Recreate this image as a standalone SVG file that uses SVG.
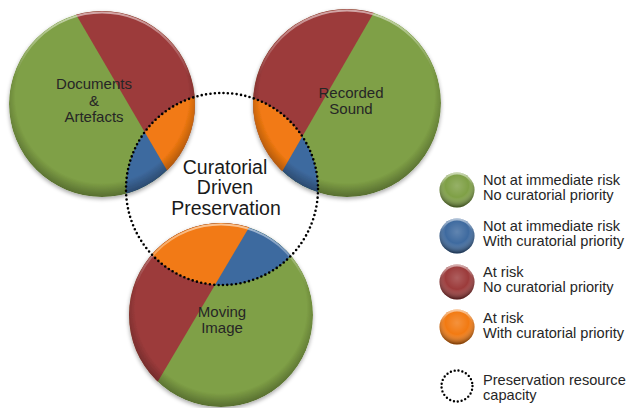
<svg xmlns="http://www.w3.org/2000/svg" width="632" height="408" viewBox="0 0 632 408">
  <defs>
    <style>
      .green { fill: #7fa046; }
      .red { fill: #9c3b3b; }
      .orange { fill: #f27a12; }
      .blue { fill: #3e6a9f; }
      .dots { fill: none; stroke: #000; stroke-width: 2.6; stroke-linecap: round; stroke-dasharray: 0 4.4; }
      .label { font-family: "Liberation Sans", Arial, sans-serif; font-size: 15px; fill: #262626; text-anchor: middle; }
      .title { font-family: "Liberation Sans", Arial, sans-serif; font-size: 19.5px; fill: #1a1a1a; text-anchor: middle; }
      .legend { font-family: "Liberation Sans", Arial, sans-serif; font-size: 14.6px; fill: #262626; }
      .bevel { fill: url(#edgeShade); }
      .rim { fill: none; stroke: url(#rimLight); stroke-width: 2; }
      .ballShade { fill: url(#ballShade); }
    </style>
    <radialGradient id="edgeShade" cx="50%" cy="46%" r="54%">
      <stop offset="0.86" stop-color="#000" stop-opacity="0"/>
      <stop offset="1" stop-color="#000" stop-opacity="0.32"/>
    </radialGradient>
    <linearGradient id="rimLight" x1="0" y1="0" x2="0" y2="1">
      <stop offset="0" stop-color="#fff" stop-opacity="0.55"/>
      <stop offset="0.35" stop-color="#fff" stop-opacity="0"/>
    </linearGradient>
    <radialGradient id="ballShade" cx="50%" cy="38%" r="60%">
      <stop offset="0" stop-color="#fff" stop-opacity="0.18"/>
      <stop offset="0.55" stop-color="#fff" stop-opacity="0"/>
      <stop offset="1" stop-color="#000" stop-opacity="0.45"/>
    </radialGradient>
    <filter id="shadow" x="-10%" y="-10%" width="120%" height="125%">
      <feGaussianBlur in="SourceAlpha" stdDeviation="2"/>
      <feOffset dy="2" result="off"/>
      <feComponentTransfer><feFuncA type="linear" slope="0.35"/></feComponentTransfer>
      <feMerge><feMergeNode/><feMergeNode in="SourceGraphic"/></feMerge>
    </filter>
    <clipPath id="clipDocs"><circle cx="102" cy="104" r="93"/></clipPath>
    <clipPath id="clipSound"><circle cx="347" cy="103" r="94"/></clipPath>
    <clipPath id="clipMoving"><circle cx="221" cy="315" r="92"/></clipPath>
    <clipPath id="clipCapacity"><circle cx="222" cy="189" r="96"/></clipPath>
  </defs>

  <rect width="632" height="408" fill="#fff"/>

  <!-- Documents & Artefacts -->
  <g id="node-documents">
    <g filter="url(#shadow)">
      <g clip-path="url(#clipDocs)">
        <circle class="green" cx="102" cy="104" r="93"/>
        <polygon class="red" points="29,-66 213,249 300,249 300,-66"/>
        <g clip-path="url(#clipCapacity)">
          <circle class="blue" cx="102" cy="104" r="93"/>
          <polygon class="orange" points="29,-66 213,249 300,249 300,-66"/>
        </g>
        <circle class="bevel" cx="102" cy="104" r="93"/>
        <circle class="rim" cx="102" cy="104" r="91.5"/>
      </g>
    </g>
    <text class="label" x="94" y="89">Documents</text>
    <text class="label" x="94" y="106">&amp;</text>
    <text class="label" x="94" y="122">Artefacts</text>
  </g>

  <!-- Recorded Sound -->
  <g id="node-recorded-sound">
    <g filter="url(#shadow)">
      <g clip-path="url(#clipSound)">
        <circle class="green" cx="347" cy="103" r="94"/>
        <polygon class="red" points="418,-64 238,248 200,248 200,-64"/>
        <g clip-path="url(#clipCapacity)">
          <circle class="blue" cx="347" cy="103" r="94"/>
          <polygon class="orange" points="418,-64 238,248 200,248 200,-64"/>
        </g>
        <circle class="bevel" cx="347" cy="103" r="94"/>
        <circle class="rim" cx="347" cy="103" r="92.5"/>
      </g>
    </g>
    <text class="label" x="351" y="98">Recorded</text>
    <text class="label" x="351" y="114">Sound</text>
  </g>

  <!-- Moving Image -->
  <g id="node-moving-image">
    <g filter="url(#shadow)">
      <g clip-path="url(#clipMoving)">
        <circle class="green" cx="221" cy="315" r="92"/>
        <polygon class="red" points="296,148 112,459 80,459 80,148"/>
        <g clip-path="url(#clipCapacity)">
          <circle class="blue" cx="221" cy="315" r="92"/>
          <polygon class="orange" points="296,148 112,459 80,459 80,148"/>
        </g>
        <circle class="bevel" cx="221" cy="315" r="92"/>
        <circle class="rim" cx="221" cy="315" r="90.5"/>
      </g>
    </g>
    <text class="label" x="222" y="317">Moving</text>
    <text class="label" x="222" y="333">Image</text>
  </g>

  <!-- Curatorial Driven Preservation: resource capacity boundary -->
  <g id="node-curatorial">
    <circle class="dots" cx="222" cy="189" r="96"/>
    <text class="title" x="225" y="174">Curatorial</text>
    <text class="title" x="225" y="194">Driven</text>
    <text class="title" x="226" y="215">Preservation</text>
  </g>

  <!-- Legend -->
  <g id="legend">
    <g id="legend-green">
      <circle class="green" cx="457" cy="190" r="17.5"/>
      <circle class="ballShade" cx="457" cy="190" r="17.5"/>
      <circle class="rim" cx="457" cy="190" r="16.5"/>
      <text class="legend" x="483" y="185">Not at immediate risk</text>
      <text class="legend" x="483" y="200">No curatorial priority</text>
    </g>
    <g id="legend-blue">
      <circle class="blue" cx="457" cy="236" r="17.5"/>
      <circle class="ballShade" cx="457" cy="236" r="17.5"/>
      <circle class="rim" cx="457" cy="236" r="16.5"/>
      <text class="legend" x="483" y="231">Not at immediate risk</text>
      <text class="legend" x="483" y="246">With curatorial priority</text>
    </g>
    <g id="legend-red">
      <circle class="red" cx="457" cy="282" r="17.5"/>
      <circle class="ballShade" cx="457" cy="282" r="17.5"/>
      <circle class="rim" cx="457" cy="282" r="16.5"/>
      <text class="legend" x="483" y="277">At risk</text>
      <text class="legend" x="483" y="292">No curatorial priority</text>
    </g>
    <g id="legend-orange">
      <circle class="orange" cx="457" cy="327" r="17.5"/>
      <circle class="ballShade" cx="457" cy="327" r="17.5"/>
      <circle class="rim" cx="457" cy="327" r="16.5"/>
      <text class="legend" x="483" y="323">At risk</text>
      <text class="legend" x="483" y="338">With curatorial priority</text>
    </g>
    <g id="legend-capacity">
      <circle class="dots" cx="457" cy="386" r="15.5" style="stroke-width:2.4;stroke-dasharray:0 3.9"/>
      <text class="legend" x="483" y="385">Preservation resource</text>
      <text class="legend" x="483" y="400">capacity</text>
    </g>
  </g>
</svg>
